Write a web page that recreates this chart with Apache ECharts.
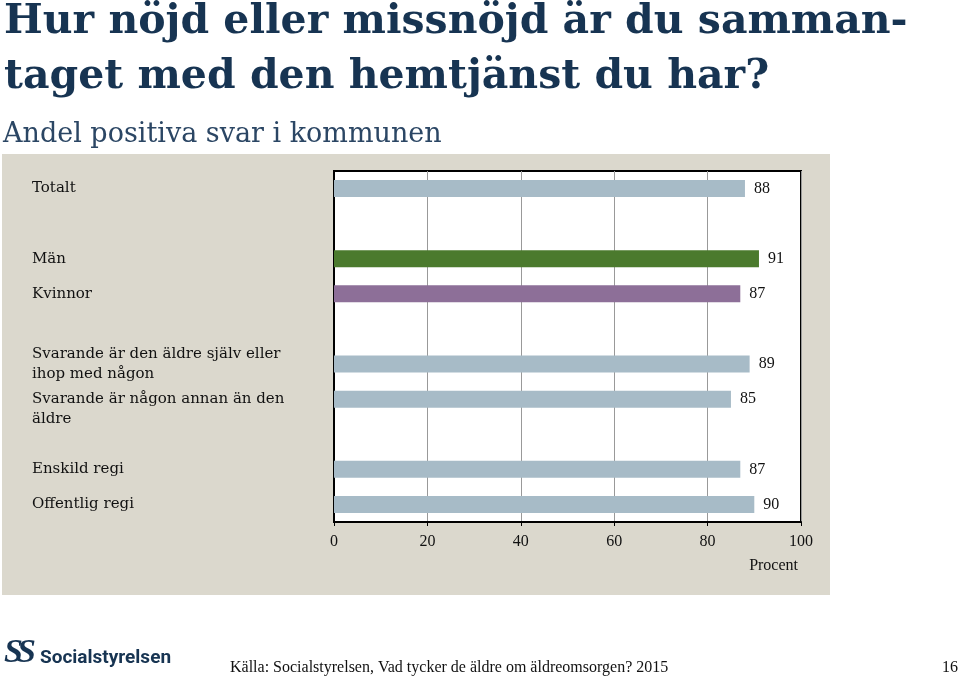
<!DOCTYPE html>
<html>
<head>
<meta charset="utf-8">
<script src="https://cdn.jsdelivr.net/npm/echarts@6/dist/echarts.min.js"></script>
<style>
html,body{margin:0;padding:0;background:#fff;}
#chart{width:960px;height:679px;}
</style>
</head>
<body>
<div id="chart"></div>
<script>
// ---- data ----
const categories = [
  'Totalt', ' ', 'Män', 'Kvinnor', '  ',
  'Svarande är den äldre själv eller\nihop med någon',
  'Svarande är någon annan än den\näldre',
  '   ', 'Enskild regi', 'Offentlig regi'
];
const values = [88, null, 91, 87, null, 89, 85, null, 87, 90];
const groups = ['all', null, 'men', 'women', null, 'all', 'all', null, 'all', 'all'];
const xTicks = [0, 20, 40, 60, 80, 100];
const titleLines = ['Hur nöjd eller missnöjd är du samman-', 'taget med den hemtjänst du har?'];
const subtitle = 'Andel positiva svar i kommunen';
const axisName = 'Procent';
const source = 'Källa: Socialstyrelsen, Vad tycker de äldre om äldreomsorgen? 2015';
const pageNo = '16';

// ---- styles ----
const groupColor = { all: '#A7BBC7', men: '#4B7A2D', women: '#8D6F98' };
const navy = '#173452';
const serif = '"Liberation Serif", "DejaVu Serif", serif';
const dserif = '"DejaVu Serif", serif';
// label of category index 6 sits lower (first line level with its bar)
const lowLabels = { 6: true };

const chart = echarts.init(document.getElementById('chart'));
chart.setOption({
  animation: false,
  backgroundColor: '#ffffff',
  graphic: [
    { type: 'rect', z: -10, shape: { x: 2, y: 154, width: 828, height: 441 }, style: { fill: '#DBD8CD' } },
    { type: 'text', x: 4, y: 2, style: { text: titleLines[0], font: 'bold 41px ' + dserif, fill: navy } },
    { type: 'text', x: 4, y: 57, style: { text: titleLines[1], font: 'bold 41px ' + dserif, fill: navy } },
    { type: 'text', x: 3, y: 121, style: { text: subtitle, font: 'normal 27px ' + dserif, fill: '#2b4664' } },
    { type: 'text', x: 798, y: 558, style: { text: axisName, font: '16px ' + serif, fill: '#111', textAlign: 'right' } },
    { type: 'text', x: 4, y: 636, style: { text: 'S', font: 'bold italic 34px ' + serif, fill: navy } },
    { type: 'text', x: 17, y: 636, style: { text: 'S', font: 'bold italic 34px ' + serif, fill: navy } },
    { type: 'text', x: 40, y: 649, style: { text: 'Socialstyrelsen', font: 'bold 19px Roboto, "Open Sans", sans-serif', fill: navy } },
    { type: 'text', x: 230, y: 660, style: { text: source, font: '16px ' + serif, fill: '#111' } },
    { type: 'text', x: 958, y: 660, style: { text: pageNo, font: '16px ' + serif, fill: '#111', textAlign: 'right' } }
  ],
  grid: {
    left: 334, right: 159, top: 171, bottom: 157,
    containLabel: false, outerBoundsMode: 'none',
    show: true, backgroundColor: '#ffffff', borderColor: '#000', borderWidth: 2
  },
  xAxis: {
    type: 'value', min: xTicks[0], max: xTicks[xTicks.length - 1], interval: 20,
    axisLine: { show: true, lineStyle: { color: '#000', width: 2 } },
    axisTick: { show: true, length: 4, lineStyle: { color: '#000' } },
    splitLine: { show: true, lineStyle: { color: '#999', width: 1 } },
    axisLabel: { color: '#111', fontFamily: serif, fontSize: 16, margin: 12 }
  },
  yAxis: {
    type: 'category', inverse: true, data: categories,
    axisLine: { show: true, lineStyle: { color: '#000', width: 2 } },
    axisTick: { show: false },
    splitLine: { show: false },
    axisLabel: {
      margin: 302, interval: 0, align: 'left', color: '#111', fontFamily: dserif, fontSize: 15, lineHeight: 20,
      formatter: (v, i) => lowLabels[i] ? '\n' + v : v
    }
  },
  series: [{
    type: 'bar',
    barWidth: 17,
    data: values.map((v, i) => v == null ? null : { value: v, itemStyle: { color: groupColor[groups[i]] } }),
    label: {
      show: true, position: 'right', distance: 9, color: '#111', fontFamily: serif, fontSize: 16
    }
  }]
});
</script>
</body>
</html>
